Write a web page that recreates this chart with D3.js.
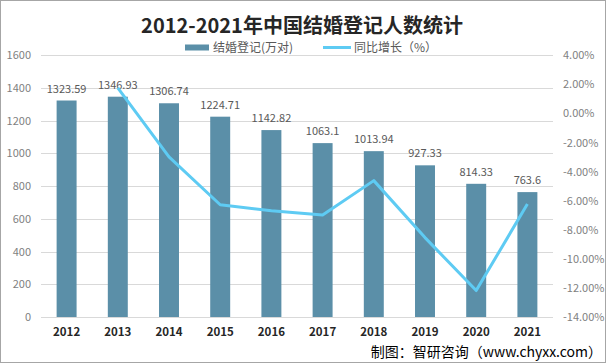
<!DOCTYPE html>
<html><head><meta charset="utf-8">
<script src="https://cdn.jsdelivr.net/npm/d3@7"></script>
<style>body{margin:0;background:#fff}svg{display:block}</style>
</head><body>
<script>
const years = ["2012","2013","2014","2015","2016","2017","2018","2019","2020","2021"];
const marriages = [1323.59,1346.93,1306.74,1224.71,1142.82,1063.1,1013.94,927.33,814.33,763.6];
const growth = [null,1.76,-2.98,-6.28,-6.69,-6.98,-4.62,-8.54,-12.18,-6.23];
const leftTicks = [0,200,400,600,800,1000,1200,1400,1600];
const rightTicks = [4,2,0,-2,-4,-6,-8,-10,-12,-14];

const W=606,H=364;
const svg=d3.select("body").append("svg").attr("width",W).attr("height",H);
svg.append("rect").attr("x",0.5).attr("y",0.5).attr("width",W-1).attr("height",H-2).attr("fill","#fff").attr("stroke","#a6a6a6");

const x=d3.scaleBand().domain(years).range([41,553]).paddingInner(0.61).paddingOuter(0.305);
const y=d3.scaleLinear().domain([0,1600]).range([317,55.3]);
const y2=d3.scaleLinear().domain([-14,4]).range([317,55.3]);
const font="'Microsoft YaHei','Noto Sans CJK SC',sans-serif";

// grid
svg.append("g").selectAll("line").data(leftTicks).join("line")
 .attr("x1",41).attr("x2",553).attr("y1",d=>Math.round(y(d))+0.5).attr("y2",d=>Math.round(y(d))+0.5)
 .attr("stroke","#d9d9d9").attr("stroke-width",1);

// left axis
const la=svg.append("g").attr("transform","translate(41,0)").call(d3.axisLeft(y).tickValues(leftTicks).tickSize(0).tickPadding(10).tickFormat(d3.format("d")));
la.select(".domain").remove();
la.selectAll("text").attr("fill","#7f7f7f").style("font-size","11px").style("font-family",font);

// right axis
const ra=svg.append("g").attr("transform","translate(553,0)").call(d3.axisRight(y2).tickValues(rightTicks).tickSize(0).tickPadding(10).tickFormat(d=>d.toFixed(2)+"%"));
ra.select(".domain").remove();
ra.selectAll("text").attr("fill","#7f7f7f").style("font-size","11px").style("font-family",font);

// x axis
const xa=svg.append("g").attr("transform","translate(0,317)").call(d3.axisBottom(x).tickSize(0).tickPadding(11));
xa.select(".domain").remove();
xa.selectAll("text").attr("fill","#262626").style("font-size","11.5px").style("font-weight","bold").style("font-family",font);

// bars
svg.append("g").selectAll("rect").data(years).join("rect")
 .attr("x",d=>x(d)).attr("width",x.bandwidth())
 .attr("y",(d,i)=>y(marriages[i])).attr("height",(d,i)=>y(0)-y(marriages[i]))
 .attr("fill","#5b8fa8");

// bar labels
svg.append("g").selectAll("text").data(years).join("text")
 .attr("x",d=>x(d)+x.bandwidth()/2).attr("y",(d,i)=>y(marriages[i])-8)
 .attr("text-anchor","middle").attr("fill","#595959").style("font-size","11px").style("font-family",font)
 .text((d,i)=>marriages[i]);

// line
const pts=years.map((d,i)=>({d,v:growth[i]})).filter(p=>p.v!==null);
svg.append("path").datum(pts)
 .attr("d",d3.line().x(p=>x(p.d)+x.bandwidth()/2).y(p=>y2(p.v)))
 .attr("fill","none").attr("stroke","#5ecbf3").attr("stroke-width",3).attr("stroke-linejoin","round");

// title
svg.append("text").attr("x",302).attr("y",33).attr("text-anchor","middle")
 .attr("fill","#262626").style("font-size","20px").style("font-weight","bold").style("font-family",font)
 .text("2012-2021年中国结婚登记人数统计");

// legend
svg.append("rect").attr("x",185).attr("y",44.5).attr("width",24).attr("height",6).attr("fill","#5b8fa8");
svg.append("text").attr("x",213).attr("y",52).attr("fill","#595959").style("font-size","12px").style("font-family",font).text("结婚登记(万对)");
svg.append("line").attr("x1",323).attr("x2",351).attr("y1",47.5).attr("y2",47.5).attr("stroke","#5ecbf3").attr("stroke-width",3);
svg.append("text").attr("x",354).attr("y",52).attr("fill","#595959").style("font-size","12px").style("font-family",font).text("同比增长（%）");

// source
svg.append("text").attr("x",602).attr("y",357).attr("text-anchor","end").attr("fill","#000")
 .style("font-size","14px").style("font-family",font).text("制图：智研咨询（www.chyxx.com）");
</script>
</body></html>
